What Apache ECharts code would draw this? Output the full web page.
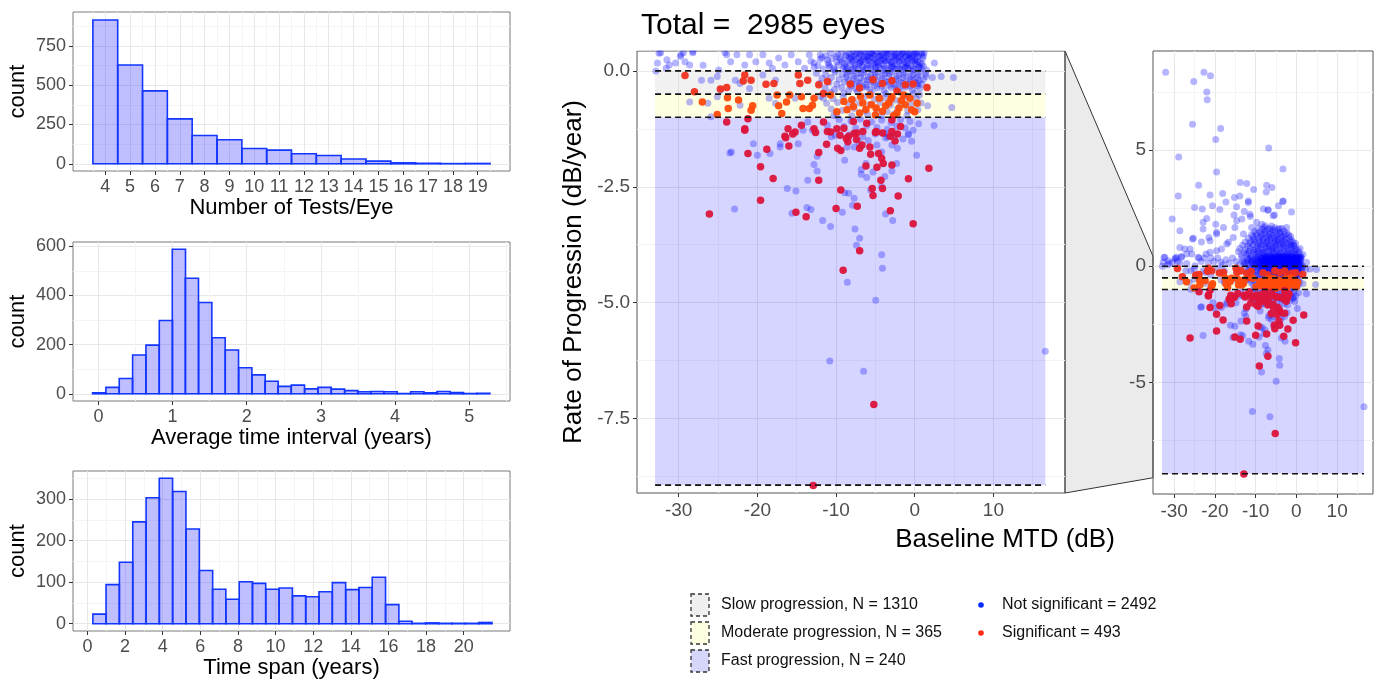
<!doctype html>
<html>
<head>
<meta charset="utf-8">
<title>Rate of progression overview</title>
<script src="https://cdn.jsdelivr.net/npm/echarts@6.0.0/dist/echarts.min.js"></script>
<style>
html, body { margin: 0; padding: 0; background: #fff; }
#chart { width: 1382px; height: 681px; }
</style>
</head>
<body>
<div id="chart"></div>
<script>
// ---- histogram 1: number of tests per eye
var testsBins = [4, 5, 6, 7, 8, 9, 10, 11, 12, 13, 14, 15, 16, 17, 18, 19];
var testsCounts = [915, 629, 464, 286, 180, 153, 97, 87, 64, 53, 30, 17, 6, 3, 1, 2];
var testsBinWidth = 1;

// ---- histogram 2: average time interval (years), bin centres
var intervalBins = [0.01, 0.19, 0.37, 0.55, 0.73, 0.91, 1.085, 1.26, 1.44, 1.62, 1.80, 1.98, 2.16, 2.335, 2.51,
  2.69, 2.87, 3.05, 3.23, 3.41, 3.585, 3.76, 3.94, 4.12, 4.30, 4.48, 4.655, 4.835, 5.01, 5.19];
var intervalCounts = [4, 26, 62, 158, 198, 298, 588, 470, 371, 228, 178, 106, 77, 51, 30,
  35, 20, 26, 19, 13, 8, 9, 8, 1, 8, 4, 9, 5, 1, 2];
var intervalBinWidth = 0.1785;

// ---- histogram 3: time span (years), bin centres
var spanBins = [0.64, 1.34, 2.05, 2.76, 3.47, 4.17, 4.88, 5.59, 6.30, 7.00, 7.71, 8.42, 9.12, 9.83, 10.54,
  11.25, 11.95, 12.66, 13.37, 14.08, 14.78, 15.49, 16.20, 16.90, 17.61, 18.32, 19.03, 19.73, 20.44, 21.15];
var spanCounts = [23, 94, 148, 245, 303, 350, 318, 228, 128, 83, 59, 101, 97, 83, 86,
  67, 65, 77, 99, 82, 87, 112, 46, 6, 1, 2, 1, 1, 1, 3];
var spanBinWidth = 0.707;

// ---- progression bands
var bandRates = [0, -0.5, -1, -8.94];
var bandMTD = [-33, 16.6];
var bandNames = ['Slow progression, N = 1310', 'Moderate progression, N = 365', 'Fast progression, N = 240'];
var sigNames = ['Not significant = 2492', 'Significant = 493'];
var totalEyes = 2985;

// ---- eyes: [baseline MTD (dB), rate (dB/year)], not significant
var notSig = [
  // sparse upper part
  [-32.1,8.36],[-25.2,7.96],[-22.7,8.36],[-21.1,8.2],[-22.0,7.5],[-21.9,7.17],[-25.5,6.11],[-18.6,5.93],[-19.8,5.46],
  [-6.8,5.09],[-28.9,4.7],[-3.3,4.19],[-19.6,4.06],[-24.0,3.49],[-13.8,3.61],[-12.2,3.56],[-7.3,3.49],[-6.0,3.39],
  [-29.0,3.03],[-21.2,3.07],[-18.1,3.13],[-15.2,2.96],[-13.9,3.03],[-11.8,2.81],[-10.5,3.3],[-7.4,3.2],[-3.4,2.79],
  [-4.4,2.6],[-1.2,2.34],[-25.0,2.53],[-23.1,2.46],[-20.6,2.6],[-18.8,2.44],[-14.7,2.56],[-12.8,2.36],[-11.3,2.14],
  [-7.0,2.41],[-5.4,2.21],[-30.5,2.03],[-22.9,1.89],[-22.0,2.06],[-19.8,1.81],[-15.3,2.21],[-14.7,1.96],[-28.6,1.53],
  [-25.3,1.21],[-23.3,1.04],[-21.2,1.1],[-17.9,1.67],[-2.4,1.67],[-8.5,1.81],[-6.1,1.73],[-28.6,0.81],[-26.1,0.74],
  [-32.3,0.39],[-31.5,0.24],[-29.4,0.39],[-26.9,0.53],[-24.1,0.39],[-22.2,0.53],[-19.6,0.67],[-17.1,0.96],[-15.5,1.24],
  [-13.0,1.39],[-11.0,1.67],[-19.6,1.39],[-21.5,1.24],[-17.3,2.77],[-22.9,1.6],[-19.6,1.46],[-25.5,1.17],[-27.4,0.74],
  [-28.2,0.39],[-32.7,0.17],[-29.8,0.31],[-25.7,0.53],[-21.2,0.6],[-18.4,0.74],[-16.7,1.03],[-15.1,1.67],[-13.4,2.03],
  [-11.4,2.24],[-11.8,2.74],[-8.1,2.46],[-6.9,2.43],[-3.2,2.81],[-5.7,2.17],[-9.8,1.89],[-7.7,1.74],[-0.7,0.89],
  [0.9,0.39],[2.5,0.17],
  // left of the cloud, near zero
  [-32.5,0.38],[-29.7,0.35],[-28.2,0.42],[-32.9,0],[-31.6,0.06],[-30.4,0.17],[-29.2,0.2],[-28.6,0.13],[-31.2,0.13],
  [-26.9,0.12],[-27.1,-0.2],[-25.9,-0.2],[-25.1,-0.12],[-24.9,0.02],[-23.9,0.35],[-23.4,0.2],[-22.6,0.35],[-21.6,0.13],
  [-21.0,0.35],[-20.2,0.2],[-19.3,0.35],[-18.5,0.17],[-18.1,0.06],[-17.3,0.28],[-16.5,0.13],[-15.7,0.35],[-14.8,0.2],
  [-14.0,0.06],[-13.4,0.35],[-12.8,0.17],[-12.0,0.35],[-11.1,0.24],[-10.3,0.06],[-9.5,0.28],[-19.3,-0.09],[-17.7,-0.2],
  [-22.2,-0.27],[-22.8,-0.2],[-21.0,-0.38],[-24.7,-0.41],[-28.6,-0.67],[-26.3,-0.7],[-25.1,-0.56],[-18.5,-0.59],
  [-17.7,-0.7],[-15.2,-0.59],[-25.9,-0.99],[-22.2,-0.74],[-11.6,-0.59],[-10.3,-0.96],[-13.6,-1.1],[-11.1,-1.17],
  // right of the cloud
  [1.43,-0.12],[2.25,-0.14],[3.36,-0.12],[4.92,-0.14],[1.64,-0.75],[4.71,-0.79],[2.46,-1.18],[-0.82,-1.36],[0.61,-0.52],[0.41,-0.27],
  // below -1
  [-23.5,-1.77],[-23.3,-1.75],[-20.5,-1.57],[-20.0,-1.82],[-18.4,-1.78],[-17.1,-1.64],[-17.1,-1.57],[-14.8,-1.57],
  [-14.2,-1.28],[-13.0,-1.28],[-12.4,-1.84],[-12.8,-2.02],[-12.4,-2.16],[-13.6,-2.36],[-10.6,-1.42],[-10.1,-1.39],
  [-8.9,-1.93],[-8.6,-1.64],[-7.7,-1.64],[-6.2,-2.0],[-6.8,-2.13],[-6.8,-2.23],[-6.1,-2.3],[-5.3,-2.18],[-4.8,-1.6],
  [-4.2,-1.75],[-3.8,-2.28],[-2.9,-2.16],[-2.3,-2.0],[-2.2,-1.67],[-2.9,-1.6],[-3.4,-1.42],[-3.8,-1.35],[-0.8,-1.38],
  [0.25,-1.82],[-5.6,-2.57],[-4.2,-2.5],[-16.2,-2.54],[-15.1,-2.59],[-13.7,-2.95],[-13.2,-2.99],[-15.6,-3.07],
  [-22.9,-2.98],[-11.7,-3.23],[-10.7,-3.36],[-8.9,-2.63],[-8.4,-2.64],[-7.7,-2.75],[-7.9,-2.9],[-9.2,-3.05],
  [-3.7,-3.09],[-2.8,-3.23],[-7.6,-3.41],[-7.0,-3.61],[-7.4,-3.76],[-4.2,-3.97],[-4.1,-4.26],[-8.56,-4.56],
  [-4.96,-4.95],[-10.8,-6.26],[-6.5,-6.48],[16.6,-6.05],
  // dense cloud, 0 to 0.43
  [-11.6,0.04],[-10.2,0.02],[-9.1,0.05],[-8.0,0.01],[-7.2,0.03],[-6.1,0.06],[-5.3,0.02],[-4.4,0.05],[-3.5,0.01],[-2.6,0.04],
  [-1.7,0.02],[-0.9,0.06],[-0.1,0.03],[0.8,0.05],[1.5,0.02],[-12.3,0.11],[-10.8,0.09],[-9.7,0.12],[-8.6,0.08],[-7.6,0.13],
  [-6.7,0.1],[-5.8,0.12],[-4.9,0.09],[-4.0,0.13],[-3.0,0.1],[-2.2,0.12],[-1.3,0.08],[-0.5,0.11],[0.4,0.13],[1.1,0.1],
  [-11.0,0.17],[-9.9,0.19],[-8.9,0.16],[-7.9,0.2],[-7.0,0.18],[-6.3,0.21],[-5.5,0.17],[-4.7,0.19],[-3.8,0.22],[-2.9,0.18],
  [-2.0,0.2],[-1.0,0.17],[-0.2,0.21],[0.7,0.19],[-12.0,0.25],[-10.5,0.27],[-9.4,0.24],[-8.3,0.28],[-7.4,0.26],[-6.6,0.24],
  [-5.7,0.29],[-5.0,0.25],[-4.1,0.27],[-3.3,0.25],[-2.4,0.29],[-1.5,0.26],[-0.7,0.28],[0.1,0.24],[1.0,0.27],[-11.3,0.33],
  [-10.0,0.31],[-8.8,0.34],[-7.7,0.32],[-6.9,0.35],[-6.0,0.31],[-5.2,0.34],[-4.5,0.32],[-3.6,0.35],[-2.7,0.31],[-1.8,0.34],
  [-1.1,0.32],[-0.3,0.35],[0.5,0.33],[-10.7,0.39],[-9.3,0.41],[-8.4,0.38],[-7.3,0.4],[-6.4,0.42],[-5.6,0.39],[-4.8,0.41],
  [-3.9,0.38],[-3.1,0.42],[-2.3,0.39],[-1.4,0.41],[-0.6,0.38],[0.2,0.4],[1.2,0.39],
  [-8.7,0.03],[-7.5,0.07],[-6.4,0.02],[-5.0,0.07],[-3.9,0.03],[-2.9,0.07],[-2.1,0.04],[-1.2,0.07],[-0.3,0.01],[0.5,0.07],
  [-8.2,0.14],[-7.1,0.15],[-6.0,0.14],[-5.1,0.15],[-4.2,0.16],[-3.3,0.14],[-2.5,0.15],[-1.6,0.14],[-0.8,0.15],[0.1,0.16],
  [0.9,0.15],[-8.5,0.22],[-7.7,0.23],[-6.8,0.22],[-5.9,0.23],[-5.1,0.21],[-4.3,0.23],[-3.4,0.22],[-2.5,0.23],[-1.7,0.22],
  [-0.9,0.23],[0.0,0.22],[-8.0,0.3],[-7.1,0.29],[-6.2,0.3],[-5.4,0.29],[-4.6,0.3],[-3.7,0.29],[-2.9,0.3],[-2.0,0.29],
  [-1.2,0.3],[-0.4,0.29],[0.3,0.3],[-8.1,0.36],[-7.0,0.37],[-6.2,0.36],[-5.3,0.37],[-4.2,0.36],[-3.4,0.37],[-2.6,0.36],
  [-1.6,0.37],[-0.8,0.36],[0.0,0.37],[0.9,0.36],[-7.8,0.42],[-6.8,0.43],[-5.9,0.42],[-5.1,0.43],[-4.3,0.42],[-3.5,0.43],
  [-2.6,0.43],[-1.9,0.42],[-1.0,0.43],[0.0,0.42],
  [-8.9,0.09],[-7.8,0.05],[-6.6,0.08],[-5.6,0.04],[-4.6,0.1],[-3.7,0.06],[-2.8,0.09],[-1.9,0.05],[-1.0,0.1],[-0.2,0.06],
  [0.6,0.09],[-9.2,0.19],[-8.1,0.25],[-6.9,0.2],[-5.9,0.26],[-4.8,0.18],[-3.9,0.24],[-3.0,0.2],[-2.1,0.26],[-1.3,0.19],
  [-0.4,0.25],[0.4,0.2],[-8.7,0.33],[-7.5,0.37],[-6.5,0.32],[-5.5,0.38],[-4.4,0.33],[-3.5,0.39],[-2.5,0.34],[-1.6,0.38],
  [-0.7,0.33],[0.2,0.37],[1.1,0.32],[-9.8,0.36],[-10.9,0.13],[-11.8,0.29],[-13.2,0.21],[-12.8,0.08],
  // dense cloud, 0.43 to 1.7
  [-13.5,0.48],[-12.2,0.52],[-11.1,0.47],[-10.0,0.53],[-9.0,0.49],[-8.1,0.55],[-7.2,0.47],[-6.3,0.51],[-5.4,0.54],[-4.5,0.48],
  [-3.6,0.52],[-2.7,0.46],[-1.8,0.53],[-0.9,0.49],[0.0,0.52],[0.9,0.47],[1.6,0.5],[-14.2,0.62],[-12.8,0.6],[-11.6,0.64],
  [-10.4,0.61],[-9.5,0.65],[-8.5,0.6],[-7.6,0.63],[-6.7,0.66],[-5.8,0.61],[-4.9,0.64],[-4.0,0.6],[-3.1,0.65],[-2.2,0.62],
  [-1.3,0.6],[-0.4,0.64],[0.6,0.61],[-13.9,0.76],[-12.5,0.73],[-11.3,0.78],[-10.1,0.74],[-9.2,0.77],[-8.3,0.72],[-7.4,0.79],
  [-6.5,0.74],[-5.6,0.77],[-4.7,0.73],[-3.8,0.78],[-2.9,0.75],[-2.0,0.72],[-1.1,0.77],[-0.2,0.74],[0.9,0.76],[-13.2,0.9],
  [-11.9,0.87],[-10.7,0.92],[-9.6,0.88],[-8.6,0.93],[-7.7,0.89],[-6.8,0.91],[-5.9,0.86],[-5.0,0.92],[-4.1,0.89],[-3.2,0.93],
  [-2.3,0.87],[-1.4,0.91],[-0.5,0.88],[-12.6,1.04],[-11.2,1.07],[-10.0,1.02],[-9.0,1.06],[-8.0,1.03],[-7.1,1.08],[-6.2,1.02],
  [-5.3,1.06],[-4.4,1.04],[-3.5,1.07],[-2.6,1.01],[-1.6,1.05],[-0.8,1.03],[-11.8,1.2],[-10.4,1.17],[-9.2,1.22],[-8.2,1.18],
  [-7.3,1.23],[-6.3,1.19],[-5.4,1.21],[-4.5,1.16],[-3.6,1.22],[-2.7,1.18],[-1.8,1.2],[-11.0,1.36],[-9.6,1.33],[-8.5,1.38],
  [-7.5,1.34],[-6.6,1.37],[-5.7,1.32],[-4.7,1.36],[-3.8,1.33],[-2.8,1.38],[-1.9,1.34],[-10.3,1.5],[-8.9,1.48],[-7.7,1.53],
  [-6.4,1.49],[-5.2,1.52],[-4.0,1.47],[-3.0,1.51],[-9.4,1.64],[-7.9,1.67],[-6.6,1.62],[-5.3,1.66],[-4.1,1.63],
  [-11.8,0.56],[-10.6,0.7],[-9.4,0.56],[-8.8,0.82],[-7.9,0.58],[-7.0,0.83],[-6.0,0.69],[-5.1,0.83],[-4.2,0.56],[-3.3,0.82],
  [-2.4,0.55],[-1.5,0.83],[-0.7,0.57],[0.3,0.7],[-11.5,0.98],[-10.3,1.12],[-9.3,0.97],[-8.3,1.12],[-7.3,0.98],[-6.5,1.13],
  [-5.5,0.97],[-4.8,1.12],[-3.9,0.98],[-3.0,1.12],[-2.1,0.97],[-1.2,1.12],[-0.2,0.98],[-10.7,1.27],[-9.9,1.42],[-8.8,1.27],
  [-7.9,1.43],[-6.9,1.27],[-6.0,1.43],[-5.0,1.27],[-4.2,1.42],[-3.2,1.27],[-2.3,1.43],[-1.4,1.28],[-8.4,1.58],[-7.1,1.6],
  [-5.8,1.57],[-4.6,1.59],[-3.5,1.62],
  // dense cloud, 0 to -0.5
  [-12.5,-0.05],[-11.3,-0.08],[-10.1,-0.03],[-9.2,-0.07],[-8.3,-0.02],[-7.4,-0.06],[-6.5,-0.04],[-5.6,-0.08],[-4.7,-0.03],
  [-3.8,-0.06],[-2.9,-0.02],[-2.0,-0.07],[-1.1,-0.04],[-0.2,-0.08],[0.7,-0.03],[1.4,-0.06],[-11.8,-0.16],[-10.6,-0.14],
  [-9.6,-0.18],[-8.7,-0.13],[-7.8,-0.17],[-6.9,-0.15],[-6.0,-0.19],[-5.1,-0.14],[-4.2,-0.17],[-3.3,-0.13],[-2.4,-0.18],
  [-1.5,-0.15],[-0.6,-0.17],[0.3,-0.14],[1.1,-0.18],[-12.1,-0.27],[-10.9,-0.25],[-9.9,-0.29],[-8.9,-0.24],[-8.0,-0.28],
  [-7.1,-0.26],[-6.2,-0.3],[-5.3,-0.25],[-4.4,-0.28],[-3.5,-0.24],[-2.6,-0.29],[-1.7,-0.26],[-0.8,-0.28],[0.1,-0.25],
  [0.9,-0.29],[-11.4,-0.37],[-10.2,-0.4],[-9.3,-0.36],[-8.4,-0.41],[-7.5,-0.38],[-6.6,-0.35],[-5.7,-0.4],[-4.8,-0.37],
  [-3.9,-0.42],[-3.0,-0.36],[-2.1,-0.39],[-1.2,-0.35],[-0.3,-0.41],[0.6,-0.38],[-10.7,-0.46],[-9.0,-0.48],[-7.3,-0.45],
  [-5.5,-0.47],[-3.7,-0.49],[-1.9,-0.46],[-0.1,-0.48],
  [-8.6,-0.08],[-7.7,-0.11],[-6.8,-0.06],[-5.9,-0.12],[-5.0,-0.07],[-4.1,-0.1],[-3.2,-0.06],[-2.3,-0.11],[-1.4,-0.08],
  [-0.5,-0.12],[0.4,-0.09],[-8.4,-0.21],[-7.4,-0.23],[-6.5,-0.2],[-5.6,-0.22],[-4.7,-0.21],[-3.8,-0.23],[-2.9,-0.2],
  [-2.0,-0.22],[-1.1,-0.21],[-0.2,-0.22],[0.6,-0.2],[-8.1,-0.33],[-7.0,-0.32],[-6.1,-0.34],[-5.1,-0.32],[-4.2,-0.33],
  [-3.3,-0.31],[-2.4,-0.34],[-1.5,-0.32],[-0.6,-0.33],[0.3,-0.32],
  // dense cloud, -0.5 to -1.6
  [-12.0,-0.55],[-10.4,-0.6],[-9.1,-0.57],[-7.8,-0.62],[-6.4,-0.56],[-5.1,-0.61],[-3.8,-0.58],[-2.5,-0.63],[-1.2,-0.57],
  [0.2,-0.6],[-11.2,-0.7],[-9.8,-0.68],[-8.4,-0.73],[-7.0,-0.69],[-5.7,-0.72],[-4.4,-0.68],[-3.1,-0.74],[-1.8,-0.7],
  [-0.5,-0.72],[0.8,-0.69],[-10.6,-0.82],[-9.2,-0.85],[-7.7,-0.81],[-6.3,-0.86],[-4.9,-0.83],[-3.5,-0.88],[-2.2,-0.82],
  [-0.9,-0.86],[0.4,-0.84],[-9.9,-0.95],[-8.0,-0.97],[-6.0,-0.94],[-4.2,-0.96],[-2.6,-0.93],[-1.0,-0.97],
  [-9.6,-1.05],[-8.1,-1.08],[-6.9,-1.04],[-5.5,-1.1],[-4.2,-1.06],[-3.0,-1.12],[-1.8,-1.05],[-0.6,-1.09],[0.5,-1.14],
  [-9.0,-1.2],[-7.5,-1.24],[-6.1,-1.18],[-4.8,-1.22],[-3.5,-1.26],[-2.3,-1.19],[-1.2,-1.23],[-0.2,-1.28],[-8.3,-1.38],
  [-6.6,-1.42],[-5.0,-1.36],[-3.7,-1.45],[-2.6,-1.4],[-1.5,-1.47],[-0.4,-1.52],[-7.1,-1.55],[-5.9,-1.5]
];

// ---- eyes with significant progression
var sig = [
  [-29.2,-0.1],[-28.0,-0.45],[-27.0,-0.67],[-24.7,-0.39],[-23.9,-0.36],[-23.8,-0.58],[-23.7,-0.81],[-25.1,-0.94],
  [-23.9,-1.1],[-22.4,-0.63],[-21.6,-0.09],[-21.8,-0.22],[-20.8,-0.2],[-21.6,-1.25],[-21.2,-1.03],[-20.8,-0.85],
  [-20.6,-0.75],[-18.9,-0.29],[-17.9,-0.27],[-17.5,-0.52],[-17.3,-0.75],[-16.9,-0.92],[-16.5,-1.41],[-16.3,-0.67],
  [-15.9,-0.52],[-14.8,-0.09],[-14.6,-0.27],[-14.4,-0.56],[-14.2,-0.81],[-13.6,-0.2],[-13.4,-0.81],[-13.0,-0.74],
  [-12.8,-0.59],[-12.2,-0.3],[-11.6,-0.49],[-11.1,-0.23],[-10.7,-0.52],[-9.9,-0.88],[-16.1,-1.25],[-15.2,-1.32],
  [-14.4,-1.17],[-12.8,-1.25],[-11.6,-1.1],[-10.7,-1.32],[-9.9,-1.25],
  [1.56,-0.36],[-4.1,-0.27],[-7.0,-0.37],[-5.3,-0.19],[-2.9,-0.21],[-1.2,-0.3],[-8.2,-0.28],[-2.25,-0.44],[-0.2,-0.28],
  [-9.0,-0.66],[-7.8,-0.77],[-6.6,-0.69],[-5.5,-0.73],[-4.5,-0.59],[-3.3,-0.69],[-2.0,-0.8],[-1.2,-0.73],[-0.6,-0.59],
  [-0.4,-0.84],[-4.1,-0.87],[-7.0,-0.91],[-8.6,-0.84],[-5.7,-0.52],[-2.9,-0.56],[-1.4,-0.52],[-4.9,-0.8],[-2.25,-0.91],
  [-8.0,-0.62],[-6.2,-0.83],[-3.7,-0.75],[-1.7,-0.64],[0.3,-0.7],[-5.0,-0.95],[-2.7,-0.97],[0.0,-0.88],[-6.9,-0.55],[-3.0,-0.6],
  [-9.0,-1.24],[-7.8,-1.09],[-7.4,-1.34],[-6.1,-1.13],[-4.9,-1.31],[-4.1,-1.34],[-2.9,-1.06],[-1.8,-1.2],[-3.1,-1.41],[-8.4,-1.41],
  [-21.6,-1.28],[-16.4,-1.44],[-15.5,-1.36],[-16.0,-1.62],[-18.8,-1.69],[-21.2,-1.78],[-19.6,-2.07],[-18.0,-2.32],
  [-19.6,-2.79],[-26.1,-3.09],[-15.1,-3.05],[-13.8,-3.15],[-12.2,-2.36],[-12.2,-1.76],[-11.2,-1.58],[-12.6,-1.33],
  [-11.1,-1.31],[-9.5,-1.39],[-8.7,-1.46],[-8.5,-1.53],[-7.4,-1.48],[-9.8,-1.67],[-9.4,-1.72],[-7.0,-1.67],[-6.7,-1.6],
  [-5.7,-1.64],[-5.6,-1.8],[-4.6,-1.78],[-4.2,-1.89],[-4.0,-2.0],[-6.2,-2.05],[-4.8,-2.08],[-2.9,-2.03],[-2.5,-1.51],
  [-2.2,-1.36],[-2.9,-1.31],[-5.0,-1.33],[-6.6,-1.31],[-7.7,-1.35],[-4.3,-2.36],[-5.4,-2.54],[-4.1,-2.54],[-5.3,-2.69],
  [-2.1,-2.7],[-0.8,-2.33],[1.8,-2.1],[-9.4,-2.57],[-7.3,-2.92],[-10.0,-2.97],[-3.1,-3.02],[-0.2,-3.3],[-7.0,-3.88],
  [-9.1,-4.3],[-5.2,-7.2],[-12.9,-8.95]
];

var FONT = 'Liberation Sans';
var bandFill = ['rgba(200,200,200,0.25)', 'rgba(255,255,170,0.35)', 'rgba(0,0,255,0.165)'];
var blueDot = 'rgba(0,0,255,0.36)';

function sigColor(rate) {
  if (rate > -0.5) return '#f0301f';
  if (rate > -1) return '#ff4a0a';
  return '#dc143c';
}

function axisPair(dim, grid, min, max, majors, minors, opt) {
  opt = opt || {};
  var pos = dim === 'y' ? 'left' : 'bottom';
  var main = {
    type: 'value', gridIndex: grid, min: min, max: max, position: pos,
    axisLine: { show: false, onZero: false },
    axisTick: { show: true, length: 4, lineStyle: { color: '#333', width: 1 }, customValues: majors },
    axisLabel: { customValues: majors, fontSize: opt.fontSize || 18, color: '#4d4d4d', margin: opt.margin || 7,
      fontFamily: FONT, formatter: opt.formatter || '{value}' },
    splitLine: { show: true, lineStyle: { color: '#e8e8e8', width: 1 } },
    name: opt.name || '', nameLocation: 'middle', nameGap: opt.nameGap || 30,
    nameTextStyle: { fontSize: opt.nameSize || 22, color: '#000', fontFamily: FONT }
  };
  var minor = {
    type: 'value', gridIndex: grid, min: min, max: max, position: pos,
    axisLine: { show: false, onZero: false },
    axisTick: { show: false, customValues: minors },
    axisLabel: { show: false, customValues: minors },
    splitLine: { show: true, lineStyle: { color: '#f4f4f4', width: 1 } }
  };
  return [main, minor];
}

function histSeries(g, centers, counts, width) {
  return {
    type: 'custom', xAxisIndex: 2 * g, yAxisIndex: 2 * g, silent: true,
    data: centers.map(function (c, i) { return [c, counts[i]]; }),
    encode: { x: 0, y: 1 },
    renderItem: function (params, api) {
      var c = api.value(0), n = api.value(1);
      var a = api.coord([c - width / 2, n]);
      var b = api.coord([c + width / 2, 0]);
      return {
        type: 'rect',
        shape: { x: a[0], y: a[1], width: b[0] - a[0], height: b[1] - a[1] },
        style: { fill: 'rgba(0,0,255,0.25)', stroke: '#1236ff', lineWidth: 1.6 }
      };
    }
  };
}

function bandSeries(ax) {
  var rows = [];
  for (var i = 0; i < 3; i++) rows.push([bandMTD[0], bandMTD[1], bandRates[i], bandRates[i + 1], i]);
  return {
    type: 'custom', xAxisIndex: ax, yAxisIndex: ax, silent: true, z: 1, clip: true,
    data: rows, encode: { x: [0, 1], y: [2, 3] },
    renderItem: function (params, api) {
      var a = api.coord([api.value(0), api.value(2)]);
      var b = api.coord([api.value(1), api.value(3)]);
      return { type: 'rect', shape: { x: a[0], y: a[1], width: b[0] - a[0], height: b[1] - a[1] },
        style: { fill: bandFill[api.value(4)] } };
    }
  };
}

function lineSeries(ax) {
  return {
    type: 'custom', xAxisIndex: ax, yAxisIndex: ax, silent: true, z: 6, clip: true,
    data: bandRates.map(function (r) { return [bandMTD[0], bandMTD[1], r]; }),
    encode: { x: [0, 1], y: 2 },
    renderItem: function (params, api) {
      var a = api.coord([api.value(0), api.value(2)]);
      var b = api.coord([api.value(1), api.value(2)]);
      return { type: 'line', shape: { x1: a[0], y1: a[1], x2: b[0], y2: b[1] },
        style: { stroke: '#111', lineWidth: 1.6, lineDash: [6, 4] } };
    }
  };
}

function pointSeries(ax) {
  return [
    { type: 'scatter', xAxisIndex: ax, yAxisIndex: ax, data: notSig, symbolSize: 7, silent: true, z: 3,
      itemStyle: { color: blueDot } },
    { type: 'scatter', xAxisIndex: ax, yAxisIndex: ax, data: sig, symbolSize: 7.5, silent: true, z: 4,
      itemStyle: { color: function (p) { return sigColor(p.value[1]); }, opacity: 0.95 } }
  ];
}

var gridBase = { show: true, borderColor: '#7a7a7a', borderWidth: 1, backgroundColor: 'transparent',
  containLabel: false, outerBoundsMode: 'none' };
var grids = [
  Object.assign({ left: 73, top: 12, width: 437, height: 159 }, gridBase),
  Object.assign({ left: 73, top: 242, width: 437, height: 159 }, gridBase),
  Object.assign({ left: 73, top: 471, width: 437, height: 160 }, gridBase),
  Object.assign({ left: 637, top: 51, width: 428, height: 442 }, gridBase, { borderColor: '#555' }),
  Object.assign({ left: 1153, top: 51, width: 220, height: 443 }, gridBase, { borderColor: '#555' })
];

var xAxes = [].concat(
  axisPair('x', 0, 2.7, 20.3, testsBins, [3.5,4.5,5.5,6.5,7.5,8.5,9.5,10.5,11.5,12.5,13.5,14.5,15.5,16.5,17.5,18.5,19.5],
    { name: 'Number of Tests/Eye', nameGap: 26 }),
  axisPair('x', 1, -0.343, 5.55, [0, 1, 2, 3, 4, 5], [0.5, 1.5, 2.5, 3.5, 4.5, 5.5],
    { name: 'Average time interval (years)', nameGap: 26 }),
  axisPair('x', 2, -0.77, 22.46, [0, 2, 4, 6, 8, 10, 12, 14, 16, 18, 20], [1, 3, 5, 7, 9, 11, 13, 15, 17, 19, 21],
    { name: 'Time span (years)', nameGap: 26 }),
  axisPair('x', 3, -35.3, 19.1, [-30, -20, -10, 0, 10], [-25, -15, -5, 5, 15], { fontSize: 19, margin: 8 }),
  axisPair('x', 4, -35.2, 18.8, [-30, -20, -10, 0, 10], [-25, -15, -5, 5, 15], { fontSize: 19, margin: 8 })
);
var yAxes = [].concat(
  axisPair('y', 0, -46, 966, [0, 250, 500, 750], [125, 375, 625, 875], { name: 'count', nameGap: 44 }),
  axisPair('y', 1, -29.4, 617.4, [0, 200, 400, 600], [100, 300, 500], { name: 'count', nameGap: 44 }),
  axisPair('y', 2, -17.5, 367.5, [0, 100, 200, 300], [50, 150, 250, 350], { name: 'count', nameGap: 44 }),
  axisPair('y', 3, -9.11, 0.43, [-7.5, -5, -2.5, 0], [-8.75, -6.25, -3.75, -1.25],
    { fontSize: 19, name: 'Rate of Progression (dB/year)', nameSize: 26, nameGap: 50,
      formatter: function (v) { return v.toFixed(1); } }),
  axisPair('y', 4, -9.81, 9.27, [-5, 0, 5], [-7.5, -2.5, 2.5, 7.5], { fontSize: 19 })
);

var series = [
  histSeries(0, testsBins, testsCounts, testsBinWidth),
  histSeries(1, intervalBins, intervalCounts, intervalBinWidth),
  histSeries(2, spanBins, spanCounts, spanBinWidth),
  bandSeries(6), lineSeries(6), bandSeries(8), lineSeries(8)
].concat(pointSeries(6), pointSeries(8));

var chart = echarts.init(document.getElementById('chart'), null, { renderer: 'canvas' });
chart.setOption({
  animation: false,
  backgroundColor: '#fff',
  textStyle: { fontFamily: FONT },
  title: { text: 'Total =  ' + totalEyes + ' eyes', left: 636, top: 6,
    textStyle: { fontSize: 30, fontWeight: 'normal', color: '#000', fontFamily: FONT } },
  grid: grids,
  xAxis: xAxes,
  yAxis: yAxes,
  series: series
});

// zoom connector, clipping strip, shared x title and legend
var mTop = chart.convertToPixel({ xAxisIndex: 6, yAxisIndex: 6 }, [19.1, 0.43]);
var mBot = chart.convertToPixel({ xAxisIndex: 6, yAxisIndex: 6 }, [19.1, -9.11]);
var iTop = chart.convertToPixel({ xAxisIndex: 8, yAxisIndex: 8 }, [-35.2, 0.43]);
var iBot = chart.convertToPixel({ xAxisIndex: 8, yAxisIndex: 8 }, [-35.2, -9.11]);
var mLeft = chart.convertToPixel({ xAxisIndex: 6, yAxisIndex: 6 }, [-35.3, 0.43]);

var keyFill = ['#efefef', '#fdfde0', '#d6d6fb'];
var rowsY = [605, 633, 661];
var graphics = [
  { type: 'polygon', z: -1, silent: true,
    shape: { points: [mTop, iTop, iBot, mBot] },
    style: { fill: '#ebebeb', stroke: '#333', lineWidth: 1 } },
  { type: 'rect', z: 60, silent: true,
    shape: { x: mLeft[0] - 1, y: mLeft[1] - 12, width: mTop[0] - mLeft[0] + 2, height: 11.5 },
    style: { fill: '#fff' } },
  { type: 'text', z: 60, silent: true, x: 1005, y: 540,
    style: { text: 'Baseline MTD (dB)', font: '26px "Liberation Sans"', fill: '#000', align: 'center', verticalAlign: 'middle' } }
];
bandNames.forEach(function (name, i) {
  graphics.push({ type: 'rect', z: 60, silent: true,
    shape: { x: 691, y: rowsY[i] - 11, width: 18, height: 22 },
    style: { fill: keyFill[i], stroke: '#333', lineWidth: 1.3, lineDash: [4, 3] } });
  graphics.push({ type: 'text', z: 60, silent: true, x: 721, y: rowsY[i],
    style: { text: name, font: '16px "Liberation Sans"', fill: '#111', verticalAlign: 'middle' } });
});
var sigDot = ['#0a2bff', '#ff2a16'];
sigNames.forEach(function (name, i) {
  graphics.push({ type: 'circle', z: 60, silent: true, shape: { cx: 981, cy: rowsY[i], r: 2.8 },
    style: { fill: sigDot[i] } });
  graphics.push({ type: 'text', z: 60, silent: true, x: 1002, y: rowsY[i],
    style: { text: name, font: '16px "Liberation Sans"', fill: '#111', verticalAlign: 'middle' } });
});
chart.setOption({ graphic: { elements: graphics } });
</script>
</body>
</html>
